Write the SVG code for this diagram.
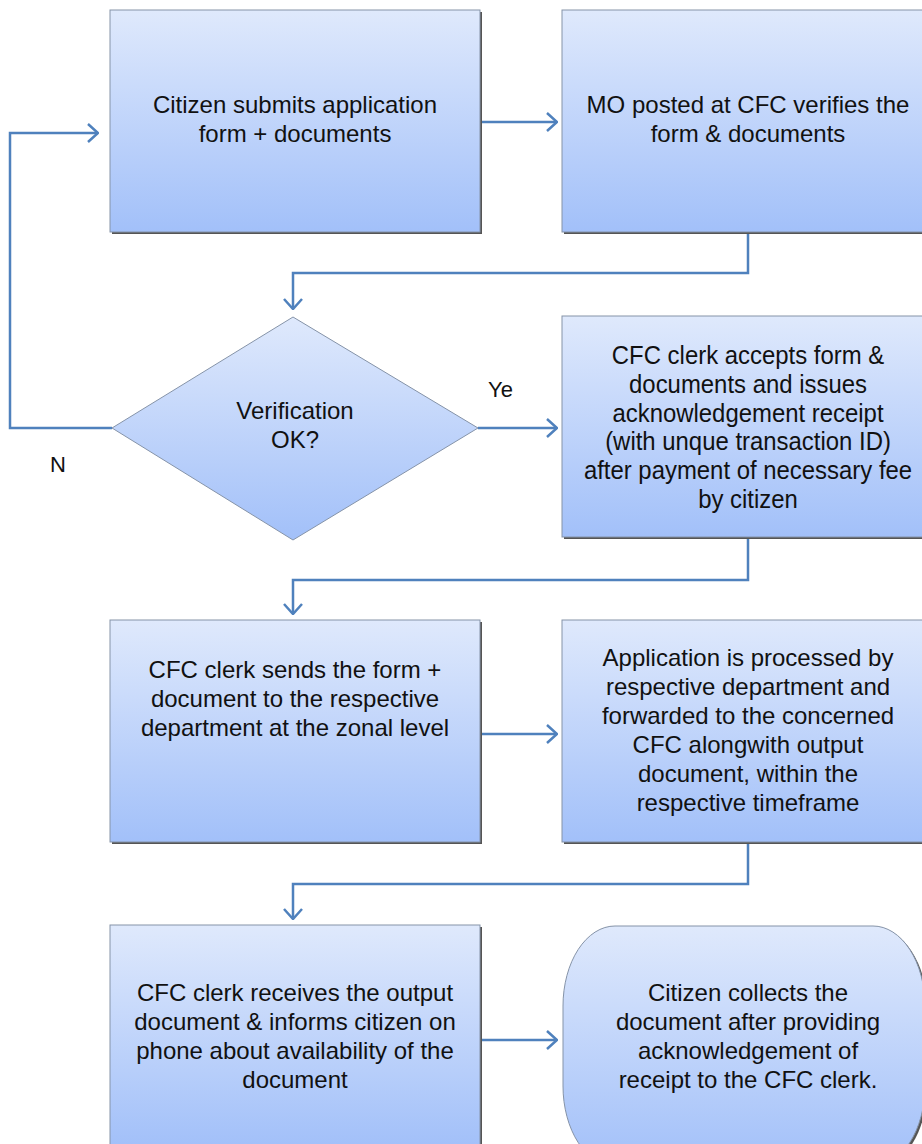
<svg xmlns="http://www.w3.org/2000/svg" width="922" height="1144" viewBox="0 0 922 1144">
<defs>
<linearGradient id="g" x1="0" y1="0" x2="0" y2="1">
<stop offset="0" stop-color="#dfe9fc"/>
<stop offset="1" stop-color="#a2c0f9"/>
</linearGradient>
<marker id="ah" viewBox="0 0 12 20" refX="11" refY="10" markerWidth="12" markerHeight="20" markerUnits="userSpaceOnUse" orient="auto">
<path d="M1,1 L11,10 L1,19" fill="none" stroke="#4f81bd" stroke-width="2.5"/>
</marker>
</defs>
<style>
.n{fill:url(#g);stroke:#8593a8;stroke-width:1}
.sh{fill:#555}
.t{font-family:"Liberation Sans",Arial,sans-serif;font-size:24px;fill:#111;text-anchor:middle}
.tc{font-family:"Liberation Sans",Arial,sans-serif;font-size:26px;fill:#111;text-anchor:middle}
.c{fill:none;stroke:#4f81bd;stroke-width:2.5;marker-end:url(#ah)}
.l{font-family:"Liberation Sans",Arial,sans-serif;font-size:22px;fill:#111}
</style>
<rect width="922" height="1144" fill="#fff"/>
<g id="connectors">
<path class="c" d="M480,122 H557"/>
<path class="c" d="M748,232 V273 H293 V309"/>
<path class="c" d="M112,428 H10 V133 H98"/>
<path class="c" d="M478,428 H557"/>
<path class="c" d="M748,537 V580 H293 V614"/>
<path class="c" d="M480,734 H557"/>
<path class="c" d="M748,842 V884 H293 V919"/>
<path class="c" d="M480,1040 H557"/>
</g>
<g id="n1">
<rect class="sh" x="112" y="12" width="370" height="222"/>
<rect class="n" x="110" y="10" width="370" height="222"/>
<text class="t" x="295" y="113">Citizen submits application</text>
<text class="t" x="295" y="142">form + documents</text>
</g>
<g id="n2">
<rect class="sh" x="564" y="12" width="360" height="222"/>
<rect class="n" x="562" y="10" width="362" height="222"/>
<text class="t" x="748" y="113">MO posted at CFC verifies the</text>
<text class="t" x="748" y="142">form &amp; documents</text>
</g>
<g id="n3">
<polygon class="n" points="293,317 478,428 293,540 112,428"/>
<text class="t" x="295" y="419">Verification</text>
<text class="t" x="295" y="448">OK?</text>
</g>
<g id="n4">
<rect class="sh" x="564" y="318" width="360" height="221"/>
<rect class="n" x="562" y="316" width="362" height="221"/>
<g transform="translate(748,0) scale(0.92,1)">
<text class="tc" x="0" y="364">CFC clerk accepts form &amp;</text>
<text class="tc" x="0" y="393">documents and issues</text>
<text class="tc" x="0" y="422">acknowledgement receipt</text>
<text class="tc" x="0" y="450">(with unque transaction ID)</text>
<text class="tc" x="0" y="479">after payment of necessary fee</text>
<text class="tc" x="0" y="508">by citizen</text>
</g>
</g>
<g id="n5">
<rect class="sh" x="112" y="622" width="370" height="222"/>
<rect class="n" x="110" y="620" width="370" height="222"/>
<text class="t" x="295" y="678">CFC clerk sends the form +</text>
<text class="t" x="295" y="707">document to the respective</text>
<text class="t" x="295" y="736">department at the zonal level</text>
</g>
<g id="n6">
<rect class="sh" x="564" y="622" width="360" height="222"/>
<rect class="n" x="562" y="620" width="362" height="222"/>
<text class="t" x="748" y="666">Application is processed by</text>
<text class="t" x="748" y="695">respective department and</text>
<text class="t" x="748" y="724">forwarded to the concerned</text>
<text class="t" x="748" y="753">CFC alongwith output</text>
<text class="t" x="748" y="782">document, within the</text>
<text class="t" x="748" y="811">respective timeframe</text>
</g>
<g id="n7">
<rect class="sh" x="112" y="927" width="370" height="222"/>
<rect class="n" x="110" y="925" width="370" height="222"/>
<text class="t" x="295" y="1001">CFC clerk receives the output</text>
<text class="t" x="295" y="1030">document &amp; informs citizen on</text>
<text class="t" x="295" y="1059">phone about availability of the</text>
<text class="t" x="295" y="1088">document</text>
</g>
<g id="n8">
<rect class="sh" x="565" y="928" width="362" height="240" rx="52" ry="80"/>
<rect class="n" x="563" y="926" width="362" height="240" rx="52" ry="80"/>
<text class="t" x="748" y="1001">Citizen collects the</text>
<text class="t" x="748" y="1030">document after providing</text>
<text class="t" x="748" y="1059">acknowledgement of</text>
<text class="t" x="748" y="1088">receipt to the CFC clerk.</text>
</g>
<text class="l" x="488" y="397">Ye</text>
<text class="l" x="50" y="472">N</text>
</svg>
